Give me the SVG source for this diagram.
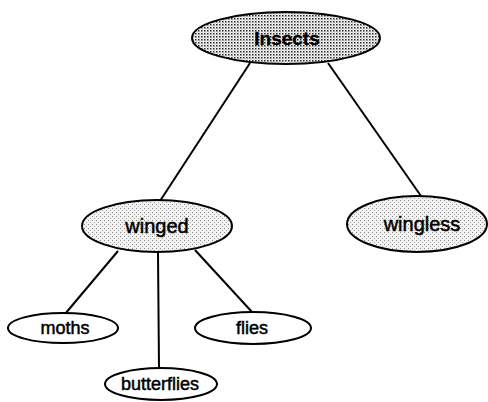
<svg xmlns="http://www.w3.org/2000/svg" width="488" height="402" viewBox="0 0 488 402">
<defs>
<pattern id="dense" width="3" height="3" patternUnits="userSpaceOnUse">
<rect width="3" height="3" fill="#ffffff"/>
<rect x="0" y="0" width="1.5" height="1.5" fill="#222"/>
<rect x="1.5" y="1.5" width="1" height="1" fill="#777"/>
</pattern>
<pattern id="light" width="4" height="4" patternUnits="userSpaceOnUse">
<rect width="4" height="4" fill="#f2f2f2"/>
<rect x="0" y="0" width="1" height="1" fill="#888"/>
<rect x="2" y="2" width="1" height="1" fill="#aaa"/>
</pattern>
<style>
.n{stroke:#000;stroke-width:2}
.t{font-family:"Liberation Sans",Arial,sans-serif;fill:#000;text-anchor:middle;stroke:#000;stroke-width:0.5}
.big{font-size:20px}
.small{font-size:18px}
.c line{stroke:#000;stroke-width:2}
</style>
</defs>
<g id="connectors" class="c">
<line x1="250" y1="63" x2="160" y2="201"/>
<line x1="328" y1="63" x2="421" y2="196"/>
<line x1="118" y1="251" x2="65" y2="314"/>
<line x1="158" y1="253" x2="159" y2="368"/>
<line x1="195" y1="250" x2="252" y2="312"/>
</g>
<g id="insects">
<ellipse class="n" cx="286" cy="38" rx="94" ry="26" fill="url(#dense)"/>
<text class="t" x="287" y="45" font-size="19" font-weight="bold" style="stroke-width:0.3">Insects</text>
</g>
<g id="winged">
<ellipse class="n" cx="157" cy="226" rx="75" ry="26" fill="url(#light)"/>
<text class="t big" x="157" y="233">winged</text>
</g>
<g id="wingless">
<ellipse class="n" cx="417" cy="224" rx="70" ry="28" fill="url(#light)"/>
<text class="t big" x="422" y="231">wingless</text>
</g>
<g id="moths">
<ellipse class="n" cx="63" cy="328" rx="55" ry="15" fill="#fff"/>
<text class="t small" x="65" y="334">moths</text>
</g>
<g id="flies">
<ellipse class="n" cx="253" cy="328" rx="58" ry="16" fill="#fff"/>
<text class="t small" x="252" y="334">flies</text>
</g>
<g id="butterflies">
<ellipse class="n" cx="161" cy="384" rx="56" ry="16" fill="#fff"/>
<text class="t small" x="160" y="390">butterflies</text>
</g>
</svg>
